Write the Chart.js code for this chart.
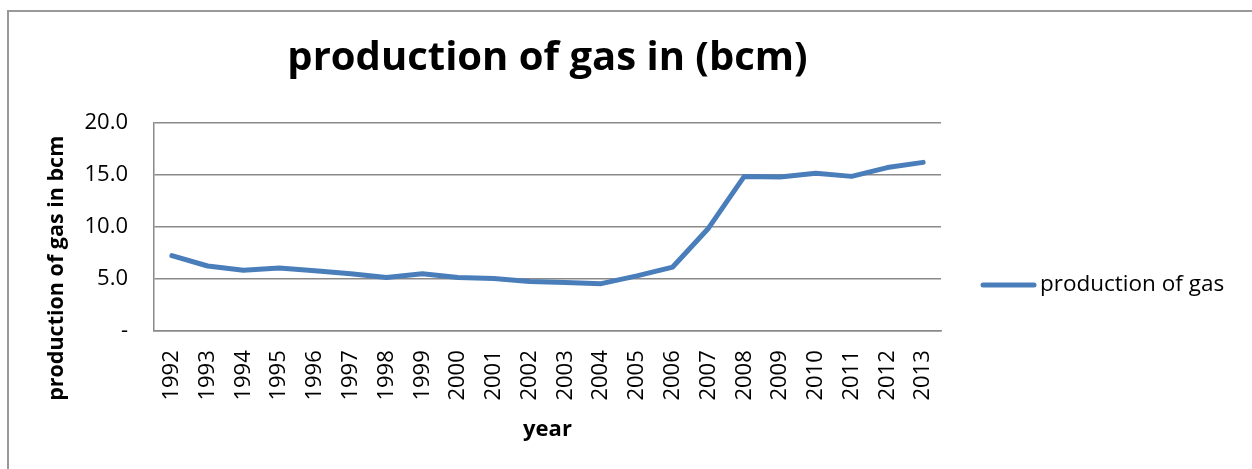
<!DOCTYPE html>
<html>
<head>
<meta charset="utf-8">
<title>production of gas in (bcm)</title>
<script src="https://cdn.jsdelivr.net/npm/chart.js@4.4.1/dist/chart.umd.min.js"></script>
<style>
  html, body { margin: 0; padding: 0; background: #fff; overflow: hidden; }
  body { width: 1252px; height: 469px; position: relative; }
  #frame {
    position: absolute; left: 7px; top: 10px; width: 1400px; height: 600px;
    border-left: 2px solid #999; border-top: 2px solid #999;
  }
  #wrap { position: absolute; left: 0; top: 0; width: 1252px; height: 469px; }
</style>
</head>
<body>
<div id="frame"></div>
<div id="wrap"><canvas id="chart"></canvas></div>
<script>
const years = [
  "1992", "1993", "1994", "1995", "1996", "1997", "1998", "1999", "2000", "2001", "2002",
  "2003", "2004", "2005", "2006", "2007", "2008", "2009", "2010", "2011", "2012", "2013",
];
const production = [
  7.2, 6.2, 5.8, 6.0, 5.75, 5.45, 5.1, 5.45, 5.1, 5.0, 4.7,
  4.6, 4.5, 5.25, 6.1, 9.85, 14.85, 14.8, 15.15, 14.85, 15.7, 16.2,
];
const seriesName = "production of gas";
const chartTitle = "production of gas in (bcm)";
const yTitle = "production of gas in bcm";
const xTitle = "year";
const yMax = 20;
const yStep = 5;

const FONT = "'Open Sans', 'Noto Sans', sans-serif";
const LINE = "#4a7ebb";
const GRID = "#8a8a8a";

Chart.defaults.font.family = FONT;
Chart.defaults.color = "#000";

// y axis title and legend, placed like the Excel original
const extras = {
  id: "extras",
  afterDraw(chart) {
    const { ctx, chartArea } = chart;
    ctx.save();
    ctx.fillStyle = "#000";
    ctx.font = `bold 21.5px ${FONT}`;
    ctx.textAlign = "center";
    ctx.textBaseline = "middle";
    ctx.translate(57, chartArea.bottom - 62);
    ctx.rotate(-Math.PI / 2);
    ctx.fillText(yTitle, 0, 0);
    ctx.restore();

    const ds = chart.data.datasets[0];
    const ly = 285;
    ctx.save();
    ctx.strokeStyle = ds.borderColor;
    ctx.lineWidth = 5;
    ctx.lineCap = "round";
    ctx.beginPath();
    ctx.moveTo(983, ly);
    ctx.lineTo(1034, ly);
    ctx.stroke();
    ctx.fillStyle = "#000";
    ctx.font = `22.5px ${FONT}`;
    ctx.textAlign = "left";
    ctx.textBaseline = "middle";
    ctx.fillText(ds.label, 1040, ly);
    ctx.restore();
  },
};

new Chart(document.getElementById("chart"), {
  type: "line",
  data: {
    labels: years,
    datasets: [
      {
        label: seriesName,
        data: production,
        borderColor: LINE,
        backgroundColor: LINE,
        borderWidth: 5,
        borderCapStyle: "round",
        borderJoinStyle: "round",
        pointRadius: 0,
        tension: 0,
      },
    ],
  },
  options: {
    responsive: true,
    maintainAspectRatio: false,
    animation: false,
    layout: { padding: { left: 0, right: 311, top: 0, bottom: 4 } },
    plugins: {
      legend: { display: false },
      tooltip: { enabled: false },
      title: {
        display: true,
        text: chartTitle,
        fullSize: false,
        font: { size: 40, weight: "bold" },
        color: "#000",
        padding: { top: 35, bottom: 40 },
      },
    },
    scales: {
      x: {
        offset: true,
        grid: { display: false },
        border: { display: true, color: GRID, width: 1.5 },
        ticks: {
          autoSkip: false,
          maxRotation: 90,
          minRotation: 90,
          padding: 12,
          font: { size: 22 },
          color: "#000",
        },
        title: {
          display: true,
          text: xTitle,
          font: { size: 22, weight: "bold" },
          color: "#000",
          padding: { top: 4, bottom: 22 },
        },
      },
      y: {
        min: 0,
        max: yMax,
        afterFit(scale) {
          scale.width = 154;
        },
        grid: { color: GRID, lineWidth: 1.5, drawTicks: false },
        border: { display: true, color: GRID, width: 1.5 },
        ticks: {
          stepSize: yStep,
          padding: 26,
          font: { size: 22 },
          color: "#000",
          callback: (v) => (v === 0 ? "-" : v.toFixed(1)),
        },
      },
    },
  },
  plugins: [extras],
});
</script>
</body>
</html>
